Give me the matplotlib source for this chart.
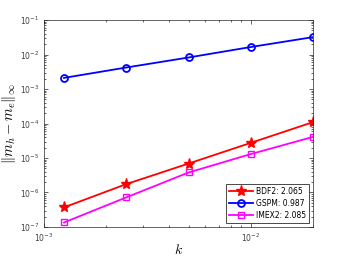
import numpy as np
import matplotlib
matplotlib.use('Agg')
import matplotlib.pyplot as plt
from matplotlib.ticker import NullFormatter

k = [1.25e-3, 2.5e-3, 5e-3, 1e-2, 2e-2]
err_bdf2 = [3.7e-7, 1.75e-6, 6.9e-6, 2.75e-5, 1.1e-4]
err_gspm = [2.1e-3, 4.2e-3, 8.2e-3, 1.65e-2, 3.2e-2]
err_imex2 = [1.35e-7, 7.2e-7, 3.8e-6, 1.3e-5, 4.1e-5]
labels = ['BDF2: 2.065', 'GSPM: 0.987', 'IMEX2: 2.085']

plt.rcParams['mathtext.fontset'] = 'cm'
fig = plt.figure(figsize=(3.46, 2.6), dpi=100)
ax = fig.add_axes([0.127, 0.127, 0.778, 0.796])

ax.loglog(k, err_bdf2, '-r*', lw=1.3, ms=8, label=labels[0])
ax.loglog(k, err_gspm, '-bo', lw=1.3, ms=5, mfc='none', mew=1.3, label=labels[1])
ax.loglog(k, err_imex2, '-s', color='magenta', lw=1.3, ms=4.5, mfc='none', mew=1.0, label=labels[2])

ax.set_xlim(1e-3, 2e-2)
ax.set_ylim(1e-7, 1e-1)
ax.xaxis.set_minor_formatter(NullFormatter())
ax.yaxis.set_minor_formatter(NullFormatter())
ax.tick_params(which='both', direction='in', top=True, right=True, labelsize=5.5,
               colors='#262626', labelcolor='#404040', width=0.5)
ax.tick_params(which='major', length=3)
ax.tick_params(which='minor', length=1.5)
for s in ax.spines.values():
    s.set_color('#262626')
    s.set_linewidth(0.5)

ax.set_xlabel('$k$', fontsize=10, labelpad=-1)
ax.set_ylabel(r'$\|m_h - m_e\|_\infty$', fontsize=10.5, labelpad=1)

leg = ax.legend(loc='lower right', fontsize=5.5, fancybox=False, edgecolor='black',
                framealpha=1, handlelength=3.2, borderpad=0.4, labelspacing=0.4,
                handletextpad=0.4)
leg.get_frame().set_linewidth(0.5)

fig.savefig('out.png', dpi=100)
